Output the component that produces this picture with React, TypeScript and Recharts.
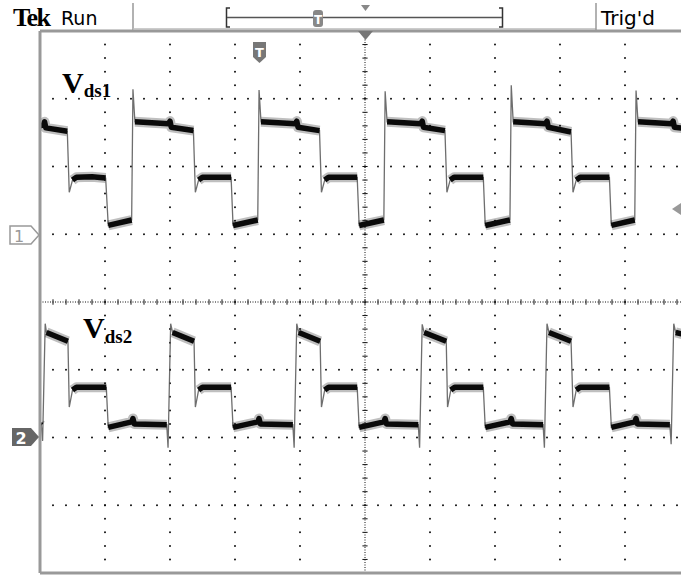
import { LineChart, Line, XAxis, YAxis, ReferenceLine } from 'recharts'

// scope screen: time in divisions (0..10), amplitude in divisions (-4..4)
// CH1 ground sits at +1 div, CH2 ground at -2 div
type Pt = [number, number]

// CH1 (Vds1) flat parts of the waveform
const ch1Plateaus: Pt[][] = [
  [[0, 2.6], [0.05, 2.61], [0.07, 2.66], [0.09, 2.57], [0.42, 2.52]],
  [[0.5, 1.8], [0.56, 1.84], [0.8, 1.85], [1.01, 1.83]],
  [[1.05, 1.13], [1.41, 1.21]],
  [[1.46, 2.66], [1.98, 2.63], [2.0, 2.67], [2.02, 2.58], [2.36, 2.53]],
  [[2.44, 1.8], [2.5, 1.84], [2.94, 1.84]],
  [[2.97, 1.13], [3.35, 1.21]],
  [[3.4, 2.66], [3.93, 2.63], [3.95, 2.67], [3.97, 2.58], [4.3, 2.53]],
  [[4.38, 1.8], [4.44, 1.84], [4.88, 1.84]],
  [[4.91, 1.13], [5.29, 1.21]],
  [[5.34, 2.66], [5.86, 2.63], [5.88, 2.67], [5.9, 2.58], [6.23, 2.53]],
  [[6.31, 1.8], [6.37, 1.84], [6.82, 1.84]],
  [[6.85, 1.13], [7.23, 1.21]],
  [[7.28, 2.66], [7.78, 2.63], [7.8, 2.67], [7.82, 2.58], [8.17, 2.51]],
  [[8.25, 1.8], [8.31, 1.84], [8.76, 1.84]],
  [[8.79, 1.13], [9.15, 1.21]],
  [[9.2, 2.66], [9.72, 2.63], [9.74, 2.67], [9.76, 2.58], [10, 2.55]],
]
// overshoot at each rising edge, undershoot after each falling edge
const ch1Spikes: Pt[] = [
  [0.45, 1.62], [1.43, 3.14],
  [2.39, 1.62], [3.37, 3.13],
  [4.33, 1.62], [5.31, 3.11],
  [6.26, 1.62], [7.25, 3.2],
  [8.2, 1.62], [9.17, 3.12],
]

// CH2 (Vds2)
const ch2Plateaus: Pt[][] = [
  [[0, -1.8], [0.02, -1.82]],
  [[0.1, -0.45], [0.43, -0.58]],
  [[0.5, -1.3], [0.56, -1.26], [1.02, -1.26]],
  [[1.05, -1.85], [1.41, -1.77], [1.43, -1.72], [1.45, -1.8], [1.95, -1.81]],
  [[2.04, -0.45], [2.37, -0.58]],
  [[2.44, -1.3], [2.5, -1.26], [2.94, -1.26]],
  [[2.97, -1.85], [3.35, -1.77], [3.37, -1.72], [3.39, -1.8], [3.89, -1.81]],
  [[3.98, -0.45], [4.31, -0.58]],
  [[4.38, -1.3], [4.44, -1.26], [4.88, -1.26]],
  [[4.91, -1.85], [5.29, -1.77], [5.31, -1.72], [5.33, -1.8], [5.82, -1.81]],
  [[5.91, -0.45], [6.25, -0.58]],
  [[6.32, -1.3], [6.38, -1.26], [6.82, -1.26]],
  [[6.85, -1.85], [7.23, -1.77], [7.25, -1.72], [7.27, -1.8], [7.74, -1.81]],
  [[7.83, -0.45], [8.17, -0.58]],
  [[8.25, -1.3], [8.31, -1.26], [8.76, -1.26]],
  [[8.79, -1.85], [9.15, -1.77], [9.17, -1.72], [9.19, -1.8], [9.69, -1.81]],
  [[9.78, -0.45], [10, -0.5]],
]
const ch2Spikes: Pt[] = [
  [0.04, -2.05], [0.08, -0.32], [0.45, -1.55],
  [1.97, -2.15], [2.01, -0.32], [2.39, -1.55],
  [3.91, -2.15], [3.95, -0.32], [4.33, -1.55],
  [5.84, -2.15], [5.88, -0.33], [6.27, -1.55],
  [7.76, -2.15], [7.8, -0.32], [8.2, -1.55],
  [9.71, -2.1], [9.75, -0.32],
]

const gridX = [1, 2, 3, 4, 6, 7, 8, 9]
const gridY = [-3, -2, -1, 1, 2, 3]
const minorX = Array.from({ length: 51 }, (_, i) => +(i * 0.2).toFixed(1))
const minorY = Array.from({ length: 41 }, (_, i) => +(-4 + i * 0.2).toFixed(1))

const fullTrace = (plateaus: Pt[][], spikes: Pt[]) =>
  [...plateaus.flat(), ...spikes].sort((a, b) => a[0] - b[0]).map(([t, v]) => ({ t, v }))

const flatTrace = (plateaus: Pt[][]) => {
  const out: { t: number; v: number | null }[] = []
  plateaus.forEach(seg => {
    seg.forEach(([t, v]) => out.push({ t, v }))
    out.push({ t: seg[seg.length - 1][0] + 0.001, v: null })
  })
  return out
}

const ch1Full = fullTrace(ch1Plateaus, ch1Spikes)
const ch1Flat = flatTrace(ch1Plateaus)
const ch2Full = fullTrace(ch2Plateaus, ch2Spikes)
const ch2Flat = flatTrace(ch2Plateaus)

function Overlay() {
  return (
    <svg width={681} height={576} style={{ position: 'absolute', left: 0, top: 0, pointerEvents: 'none' }}>
      {/* header */}
      <text x={13} y={26} fontFamily="Liberation Serif" fontWeight="bold" fontSize={26} letterSpacing={-1.5} fill="#000">Tek</text>
      <text x={61} y={25} fontFamily="DejaVu Sans" fontSize={19} fill="#000">Run</text>
      <line x1={133} y1={3} x2={133} y2={30} stroke="#999" strokeWidth={1.5} />
      <line x1={133} y1={29} x2={596} y2={29} stroke="#bbb" strokeWidth={1.5} />
      <line x1={596} y1={3} x2={596} y2={30} stroke="#999" strokeWidth={1.5} />
      <text x={601} y={25} fontFamily="DejaVu Sans" fontSize={20} fill="#000">Trig'd</text>
      <path d="M230 8 H226.5 V27 H230" fill="none" stroke="#333" strokeWidth={1.5} />
      <path d="M499 8 H502.5 V27 H499" fill="none" stroke="#333" strokeWidth={1.5} />
      <line x1={227} y1={17.5} x2={502} y2={17.5} stroke="#555" strokeWidth={1.5} />
      <rect x={313} y={10} width={10} height={17} rx={3} fill="#888" />
      <text x={318} y={24} textAnchor="middle" fontFamily="DejaVu Sans" fontWeight="bold" fontSize={12} fill="#fff">T</text>
      <polygon points="361,5 370,5 365.5,11" fill="#888" />
      {/* trigger position / level markers */}
      <polygon points="358,31 373,31 365.5,40" fill="#777" />
      <path d="M253 42 H266 V57 L259.5 63 L253 57 Z" fill="#777" />
      <text x={259.5} y={57} textAnchor="middle" fontFamily="DejaVu Sans" fontWeight="bold" fontSize={13} fill="#fff">T</text>
      <polygon points="681,203 672,209 681,215" fill="#999" />
      {/* channel ground markers */}
      <polygon points="10,226 31,226 39,235 31,244 10,244" fill="#fff" stroke="#999" strokeWidth={1.5} />
      <text x={19} y={242} textAnchor="middle" fontFamily="DejaVu Sans" fontSize={16} fill="#999">1</text>
      <polygon points="12,428 31,428 39,437 31,446 12,446" fill="#666" />
      <text x={21} y={444} textAnchor="middle" fontFamily="DejaVu Sans" fontWeight="bold" fontSize={16} fill="#fff">2</text>
      {/* trace labels */}
      <text x={62} y={93} fontFamily="Liberation Serif" fontWeight="bold" fontSize={30} fill="#000">
        V<tspan fontSize={19} dy={4}>ds1</tspan>
      </text>
      <text x={83} y={338} fontFamily="Liberation Serif" fontWeight="bold" fontSize={30} fill="#000">
        V<tspan fontSize={19} dy={5}>ds2</tspan>
      </text>
    </svg>
  )
}

export default function App() {
  const edge = { stroke: '#555', strokeWidth: 1.3, strokeOpacity: 0.85 }
  return (
    <div style={{ position: 'fixed', left: 0, top: 0, width: 681, height: 576, overflow: 'hidden', background: '#fff' }}>
      <LineChart width={700} height={576} margin={{ top: 31, right: 10, bottom: 3, left: 40 }}>
        <XAxis type="number" dataKey="t" domain={[0, 10]} ticks={minorX} interval={0} allowDataOverflow
          mirror tick={false} tickSize={4} axisLine={{ stroke: '#999', strokeWidth: 3 }} tickLine={{ stroke: '#222' }} />
        <XAxis xAxisId="top" orientation="top" type="number" dataKey="t" domain={[0, 10]} ticks={minorX} interval={0}
          mirror tick={false} tickSize={4} axisLine={{ stroke: '#999', strokeWidth: 3 }} tickLine={{ stroke: '#222' }} />
        <YAxis type="number" domain={[-4, 4]} ticks={minorY} interval={0} allowDataOverflow
          mirror tick={false} tickSize={4} axisLine={{ stroke: '#999', strokeWidth: 3 }} tickLine={{ stroke: '#222' }} />

        {gridX.map(x => (
          <ReferenceLine key={'gx' + x} x={x} stroke="#111" strokeWidth={2} strokeDasharray="0 13.55" strokeLinecap="round" />
        ))}
        {gridY.map(y => (
          <ReferenceLine key={'gy' + y} y={y} stroke="#111" strokeWidth={2} strokeDasharray="0 13" strokeLinecap="round" />
        ))}
        <ReferenceLine x={5} stroke="#111" strokeWidth={1} strokeDasharray="1 1.5" />
        <ReferenceLine y={0} stroke="#111" strokeWidth={1} strokeDasharray="1 1.5" />
        {minorX.map(x => (
          <ReferenceLine key={'cx' + x} segment={[{ x, y: -0.04 }, { x, y: 0.04 }]} stroke="#111" strokeWidth={1} />
        ))}
        {minorY.map(y => (
          <ReferenceLine key={'cy' + y} segment={[{ x: 4.96, y }, { x: 5.04, y }]} stroke="#111" strokeWidth={1} />
        ))}

        <Line data={ch1Full} dataKey="v" type="linear" dot={false} isAnimationActive={false} {...edge} />
        <Line data={ch1Flat} dataKey="v" type="linear" dot={false} isAnimationActive={false}
          stroke="#000" strokeOpacity={0.25} strokeWidth={10} strokeLinejoin="round" />
        <Line data={ch1Flat} dataKey="v" type="linear" dot={false} isAnimationActive={false}
          stroke="#0a0a0a" strokeWidth={5.5} strokeLinejoin="round" />

        <Line data={ch2Full} dataKey="v" type="linear" dot={false} isAnimationActive={false} {...edge} />
        <Line data={ch2Flat} dataKey="v" type="linear" dot={false} isAnimationActive={false}
          stroke="#000" strokeOpacity={0.25} strokeWidth={10} strokeLinejoin="round" />
        <Line data={ch2Flat} dataKey="v" type="linear" dot={false} isAnimationActive={false}
          stroke="#0a0a0a" strokeWidth={5.5} strokeLinejoin="round" />
      </LineChart>
      <Overlay />
    </div>
  )
}
